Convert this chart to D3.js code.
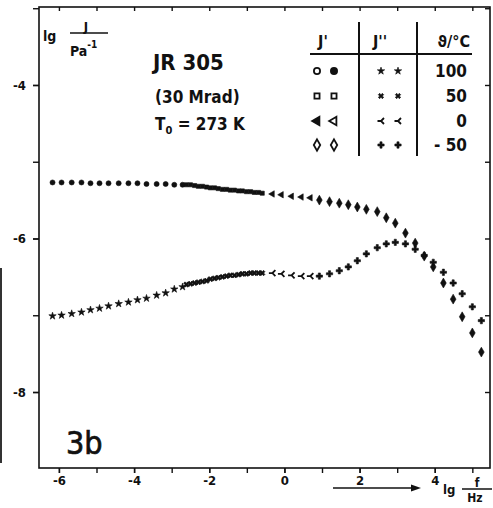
<!DOCTYPE html>
<html>
<head>
<meta charset="utf-8">
<script src="https://cdnjs.cloudflare.com/ajax/libs/d3/7.8.5/d3.min.js"></script>
<style>
  body { margin: 0; background: #fff; }
</style>
</head>
<body>
<div id="chart"></div>
<script>
// lg(f/Hz) und lg(J/Pa^-1) (Masterkurve, T0 = 273 K)
const lgF_100 = [-6.17, -5.93, -5.66, -5.40, -5.16, -4.92, -4.68, -4.41, -4.15, -3.91, -3.67, -3.40, -3.16, -2.93, -2.71];
const lgJ1_100 = [-5.27, -5.27, -5.27, -5.27, -5.28, -5.28, -5.28, -5.28, -5.28, -5.28, -5.29, -5.29, -5.29, -5.30, -5.30];
const lgJ2_100 = [-7.01, -7.00, -6.98, -6.96, -6.93, -6.91, -6.88, -6.85, -6.83, -6.80, -6.78, -6.74, -6.71, -6.66, -6.63];

const lgF_50 = [-2.61, -2.50, -2.39, -2.29, -2.18, -2.07, -1.97, -1.86, -1.76, -1.65, -1.54, -1.44, -1.33, -1.22, -1.12, -1.01, -0.90, -0.80, -0.69, -0.59];
const lgJ1_50 = [-5.30, -5.30, -5.31, -5.32, -5.32, -5.33, -5.34, -5.34, -5.35, -5.36, -5.36, -5.37, -5.37, -5.38, -5.38, -5.39, -5.39, -5.40, -5.40, -5.41];
const lgJ2_50 = [-6.60, -6.59, -6.58, -6.57, -6.56, -6.55, -6.53, -6.52, -6.51, -6.50, -6.49, -6.48, -6.48, -6.47, -6.46, -6.46, -6.45, -6.45, -6.45, -6.45];

const lgF_0 = [-0.32, -0.08, 0.19, 0.45, 0.69];
const lgJ1_0 = [-5.42, -5.43, -5.45, -5.46, -5.47];
const lgJ2_0 = [-6.45, -6.46, -6.48, -6.49, -6.49];

const lgF_m50 = [0.93, 1.20, 1.46, 1.70, 1.94, 2.18, 2.47, 2.71, 2.95, 3.22, 3.48, 3.72, 3.96, 4.23, 4.49, 4.73, 5.00, 5.24];
const lgJ1_m50 = [-5.50, -5.52, -5.54, -5.56, -5.59, -5.62, -5.65, -5.73, -5.80, -5.93, -6.06, -6.23, -6.37, -6.58, -6.79, -7.02, -7.23, -7.48];
const lgJ2_m50 = [-6.49, -6.46, -6.42, -6.37, -6.29, -6.20, -6.12, -6.07, -6.05, -6.07, -6.14, -6.22, -6.31, -6.44, -6.58, -6.72, -6.89, -7.07];

const xTicks = [-6, -4, -2, 0, 2, 4];
const xMinor = [-6, -5, -4, -3, -2, -1, 0, 1, 2, 3, 4, 5];
const yTicks = [-4, -6, -8];
const yMinor = [-3, -4, -5, -6, -7, -8];
const tempLabels = ["100", "50", "0", "- 50"];

const WIDTH = 493;
const HEIGHT = 508;
const frame = { left: 39, right: 490, top: 7, bottom: 468 };
const FONT = "'DejaVu Sans Condensed', 'DejaVu Sans', sans-serif";

const svg = d3.select("#chart").append("svg")
    .attr("width", WIDTH)
    .attr("height", HEIGHT)
    .style("font-family", FONT);

const x = d3.scaleLinear().domain([-6.53, 5.47]).range([frame.left, frame.right]);
const y = d3.scaleLinear().domain([-8.99, -2.984]).range([frame.bottom, frame.top]);

// Symbole
const sym = (type, size) => d3.symbol(type, size)();
const shapes = {
  dot: sym(d3.symbolCircle, 20),
  star: sym(d3.symbolStar, 17),
  square: sym(d3.symbolSquare, 17),
  times: sym(d3.symbolCross, 18),
  tri: sym(d3.symbolTriangle, 18),
  wye: "M-3.5,0H0M3,-3L0,0L3,3",
  diamond: sym(d3.symbolDiamond, 28),
  plus: sym(d3.symbolCross, 22)
};
const rot = { times: 45, tri: -90 };

function drawPoints(lgF, vals, shape) {
  const isStroke = shape === "wye";
  svg.append("g").selectAll("path")
    .data(lgF.map((f, i) => [f, vals[i]]))
    .join("path")
      .attr("transform", d => `translate(${x(d[0])},${y(d[1])}) rotate(${rot[shape] || 0})`)
      .attr("d", shapes[shape])
      .attr("fill", isStroke ? "none" : "#111")
      .attr("stroke", "#111")
      .attr("stroke-width", isStroke ? 1.8 : 0.6);
}

// Achsenrahmen
svg.append("rect")
    .attr("x", frame.left).attr("y", frame.top)
    .attr("width", frame.right - frame.left)
    .attr("height", frame.bottom - frame.top)
    .attr("fill", "none").attr("stroke", "#111").attr("stroke-width", 1.6);

// Streifen am linken Rand (Scan)
svg.append("line")
    .attr("x1", 1).attr("x2", 1).attr("y1", 268).attr("y2", 463)
    .attr("stroke", "#333").attr("stroke-width", 2);

const fmt = d => d < 0 ? "-" + Math.abs(d) : String(d);

// x-Achse unten
svg.append("g")
    .attr("transform", `translate(0,${frame.bottom})`)
    .call(d3.axisBottom(x).tickValues(xMinor).tickSize(5).tickFormat(""));
svg.append("g")
    .attr("class", "lab")
    .attr("transform", `translate(0,${frame.bottom})`)
    .call(d3.axisBottom(x).tickValues(xTicks).tickSize(5).tickPadding(3).tickFormat(fmt));
// oben (nach innen)
svg.append("g")
    .attr("transform", `translate(0,${frame.top})`)
    .call(d3.axisTop(x).tickValues(xMinor).tickSize(-4).tickFormat(""));

// y-Achse links
svg.append("g")
    .attr("transform", `translate(${frame.left},0)`)
    .call(d3.axisLeft(y).tickValues(yMinor).tickSize(6).tickFormat(""));
svg.append("g")
    .attr("class", "lab")
    .attr("transform", `translate(${frame.left},0)`)
    .call(d3.axisLeft(y).tickValues(yTicks).tickSize(6).tickPadding(7).tickFormat(fmt));
// rechts (nach innen)
svg.append("g")
    .attr("transform", `translate(${frame.right},0)`)
    .call(d3.axisRight(y).tickValues(yMinor).tickSize(-5).tickFormat(""));

svg.selectAll(".domain").remove();
svg.selectAll(".tick line").attr("stroke", "#111").attr("stroke-width", 1.4);
svg.selectAll(".lab text")
    .attr("fill", "#111")
    .style("font-family", FONT)
    .style("font-size", "13px")
    .style("font-weight", "bold");

// Messpunkte
drawPoints(lgF_100, lgJ1_100, "dot");
drawPoints(lgF_100, lgJ2_100, "star");
drawPoints(lgF_50, lgJ1_50, "square");
drawPoints(lgF_50, lgJ2_50, "times");
drawPoints(lgF_0, lgJ1_0, "tri");
drawPoints(lgF_0, lgJ2_0, "wye");
drawPoints(lgF_m50, lgJ1_m50, "diamond");
drawPoints(lgF_m50, lgJ2_m50, "plus");

// y-Achsentitel lg J/Pa^-1
svg.append("text").attr("x", 43).attr("y", 41)
    .style("font-size", "14px").style("font-weight", "bold").text("lg");
svg.append("line").attr("x1", 70).attr("x2", 108).attr("y1", 33).attr("y2", 33)
    .attr("stroke", "#111").attr("stroke-width", 1.5);
svg.append("text").attr("x", 86).attr("y", 31).attr("text-anchor", "middle")
    .style("font-size", "13px").style("font-weight", "bold").text("J");
const pa = svg.append("text").attr("x", 70).attr("y", 56)
    .style("font-size", "14px").style("font-weight", "bold");
pa.append("tspan").text("Pa");
pa.append("tspan").attr("dy", -8).style("font-size", "10px").text("-1");

// Probenbeschreibung
svg.append("text").attr("x", 153).attr("y", 70)
    .style("font-size", "22px").style("font-weight", "bold").text("JR 305");
svg.append("text").attr("x", 155).attr("y", 103)
    .style("font-size", "17px").style("font-weight", "bold").text("(30 Mrad)");
const t0 = svg.append("text").attr("x", 155).attr("y", 130)
    .style("font-size", "17px").style("font-weight", "bold");
t0.append("tspan").text("T");
t0.append("tspan").attr("dy", 4).style("font-size", "11px").text("0");
t0.append("tspan").attr("dy", -4).text(" = 273 K");

// Legendentabelle
const legRows = [71, 96, 121, 145];
svg.append("line").attr("x1", 310).attr("x2", 472).attr("y1", 54).attr("y2", 54)
    .attr("stroke", "#111").attr("stroke-width", 2);
[359, 417].forEach(lx => {
  svg.append("line").attr("x1", lx).attr("x2", lx).attr("y1", 22).attr("y2", 156)
      .attr("stroke", "#111").attr("stroke-width", 2);
});
svg.append("text").attr("x", 323).attr("y", 47).attr("text-anchor", "middle")
    .style("font-size", "16px").style("font-weight", "bold").text("J'");
svg.append("text").attr("x", 380).attr("y", 47).attr("text-anchor", "middle")
    .style("font-size", "16px").style("font-weight", "bold").text("J''");
svg.append("text").attr("x", 470).attr("y", 47).attr("text-anchor", "end")
    .style("font-size", "16px").style("font-weight", "bold").text("ϑ/°C");

tempLabels.forEach((t, i) => {
  svg.append("text").attr("x", 467).attr("y", legRows[i] + 6).attr("text-anchor", "end")
      .style("font-size", "17px").style("font-weight", "bold").text(t);
});

const legShapes = [
  [["circle", false], ["circle", true], "star"],
  [["square", false], ["square", false], "times"],
  [["tri", true], ["tri", false], "wye"],
  [["diamond", false], ["diamond", false], "plus"]
];
const legBig = {
  circle: sym(d3.symbolCircle, 30),
  square: sym(d3.symbolSquare, 26),
  tri: sym(d3.symbolTriangle, 30),
  diamond: sym(d3.symbolDiamond, 36)
};
legShapes.forEach((row, i) => {
  const cy = legRows[i];
  [row[0], row[1]].forEach((s, k) => {
    svg.append("path")
        .attr("transform", `translate(${317 + k * 17},${cy}) rotate(${s[0] === "tri" ? -90 : 0})`)
        .attr("d", legBig[s[0]])
        .attr("fill", s[1] ? "#111" : "#fff")
        .attr("stroke", "#111").attr("stroke-width", 1.8);
  });
  [381, 398].forEach(sx => {
    const isStroke = row[2] === "wye";
    svg.append("path")
        .attr("transform", `translate(${sx},${cy}) rotate(${rot[row[2]] || 0})`)
        .attr("d", shapes[row[2]])
        .attr("fill", isStroke ? "none" : "#111")
        .attr("stroke", "#111").attr("stroke-width", isStroke ? 1.8 : 0.6);
  });
});

// Bildnummer
svg.append("text").attr("x", 66).attr("y", 454)
    .attr("stroke", "#111").attr("stroke-width", 0.7)
    .style("font-size", "32px").text("3b");

// x-Achsentitel mit Pfeil
svg.append("line").attr("x1", 333).attr("x2", 414).attr("y1", 488).attr("y2", 488)
    .attr("stroke", "#111").attr("stroke-width", 1.5);
svg.append("path").attr("d", "M411,484.5L421,488L411,491.5Z").attr("fill", "#111");
svg.append("text").attr("x", 443).attr("y", 494)
    .style("font-size", "13px").style("font-weight", "bold").text("lg");
svg.append("line").attr("x1", 462).attr("x2", 492).attr("y1", 489).attr("y2", 489)
    .attr("stroke", "#111").attr("stroke-width", 1.5);
svg.append("text").attr("x", 477).attr("y", 487).attr("text-anchor", "middle")
    .style("font-size", "12px").style("font-weight", "bold").text("f");
svg.append("text").attr("x", 475).attr("y", 502).attr("text-anchor", "middle")
    .style("font-size", "12px").style("font-weight", "bold").text("Hz");

svg.selectAll("text").attr("fill", "#111");
</script>
</body>
</html>
